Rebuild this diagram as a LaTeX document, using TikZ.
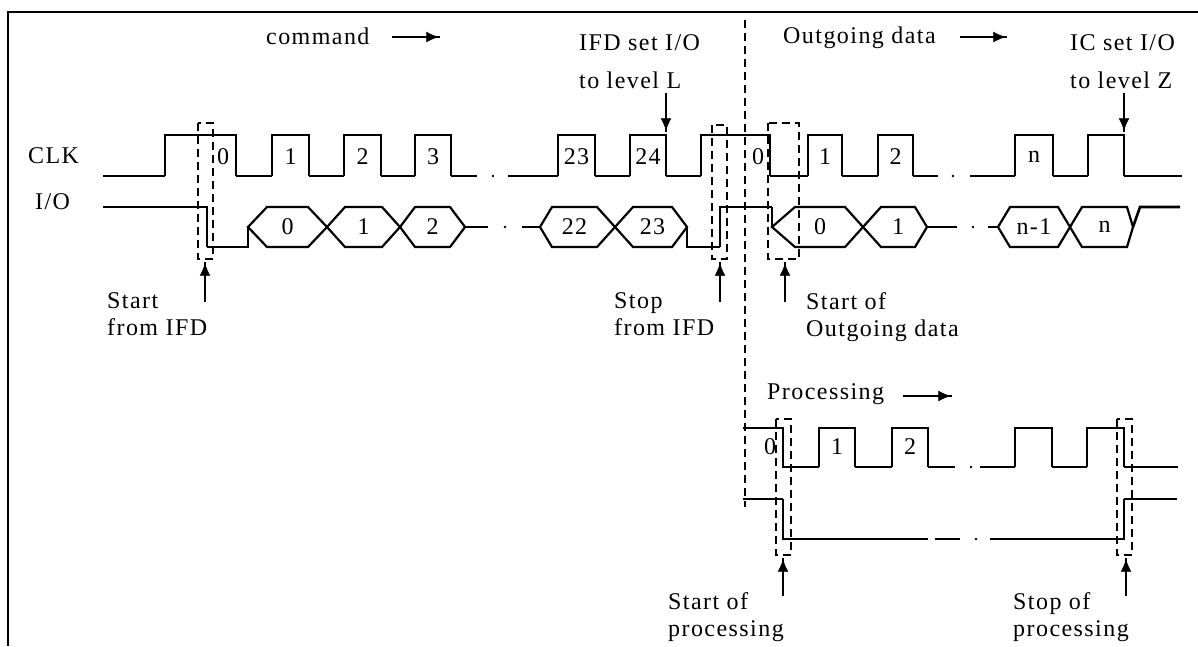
\documentclass[tikz,border=0pt]{standalone}
\usepackage{fontspec}
\setmainfont{Liberation Serif}[LetterSpace=6]
\usetikzlibrary{positioning, calc, arrows.meta, decorations.markings}
\tikzstyle{Pointer} = [
%thin shaft with a filled head:
line width=1.2pt,
decoration={
markings,
mark=at position 1 with {
\arrow{Latex[length=14pt,width=12pt]}
}
},
preaction = {decorate}
]

\begin{document}
\begin{tikzpicture}[x=1pt, y=-1pt,
				hi/.style = {line width=2.6pt},
				lo/.style = {line width=1.3pt},
				hex/.style = {line width=2.2pt, line join=miter},
				cut/.style = {line width=1.3pt, dash pattern=on 8pt off 5pt},
				tag/.style = {font=\fontsize{24}{28}\selectfont, inner sep=0pt},
				note/.style = {font=\fontsize{24}{27}\selectfont, inner sep=0pt, align=left, anchor=north west},
				wide/.style = {note, font=\fontsize{24}{38}\selectfont},
			]
			\useasboundingbox (0,0) rectangle (1198,646);
			\draw[line width=1.6pt] (8,646) |- (1198,12);

			% headings
			\node[tag, anchor=base west](cmd) at (266,44){command};
			\node[tag, anchor=base west](outData) at (783,43){Outgoing data};
			\node[tag, anchor=base west](proc) at (767,399){Processing};
			\node[wide](ifdL) at (579,34){IFD set I/O\\to level L};
			\node[wide](icZ) at (1070,34){IC set I/O\\to level Z};
			\node[tag, anchor=base west](clk) at (28,163){CLK};
			\node[tag, anchor=base west](io) at (35,209){I/O};

			\node[note](startIFD) at (107,292){Start\\from IFD};
			\node[note](stopIFD) at (614,292){Stop\\from IFD};
			\node[note](startOut) at (806,292){Start of\\Outgoing data};
			\node[note](startProc) at (668,592){Start of\\processing};
			\node[note](stopProc) at (1013,592){Stop of\\processing};

			% clock line
			\draw[lo] (103,176) -- (165,176);
			\foreach \a/\b in {236/272, 309/344, 381/415, 451/477, 508/558, 595/630, 666/701, 770/808, 842/878, 913/938, 970/1015, 1053/1088, 1124/1182}
				\draw[lo] (\a,176) -- (\b,176);
			\foreach \a/\b/\t in {165/236/, 272/309/1, 344/381/2, 415/451/3, 558/595/23, 630/666/24, 701/770/, 808/842/1, 878/913/2, 1015/1053/n, 1088/1124/}
				\draw[hi] (\a,176) |- (\b,135) -- (\b,176) node[tag](ck-\a) at ({(\a+\b)/2},157){\t};
			\node[tag](ck-first) at (223,157){0};
			\node[tag](ck-turn) at (758,157){0};
			\fill (493,176) circle (1.4pt);
			\fill (953,176) circle (1.4pt);

			% I/O line
			\draw[hi] (103,207) -| (207,247);
			\draw[lo] (207,247) -| (248,227);
			\foreach \a/\b/\c/\d/\t in {248/267/308/327/0, 327/345/382/400/1, 400/415/450/465/2, 540/552/597/615/22, 615/633/672/687/23, 772/795/845/863/0, 863/881/915/927/1, 998/1010/1058/1070/n-1, 1070/1082/1127/1133/n}
				\draw[hex] (\a,227) -- (\b,207) -- (\c,207) -- (\d,227) -- (\c,247) -- (\b,247) -- cycle node[tag](by-\a) at ({(\b+\c)/2},227){\t};
			\draw[hi] (465,227) -- (488,227);
			\draw[hi] (522,227) -- (540,227);
			\draw[lo] (687,227) |- (720,247);
			\draw[hi] (720,247) |- (772,207);
			\draw[lo] (772,207) -- (772,227);
			\draw[hi] (927,227) -- (957,227);
			\draw[hi] (988,227) -- (998,227);
			\draw[hi] (1133,227) -- (1140,207) -- (1180,207);
			\fill (505,227) circle (1.4pt);
			\fill (973,227) circle (1.4pt);

			% processing clock
			\draw[hi] (743,428) -| (783,467) -- (819,467);
			\foreach \a/\b in {855/892, 928/955, 980/1015, 1052/1087, 1124/1178}
				\draw[hi] (\a,467) -- (\b,467);
			\foreach \a/\b/\t in {819/855/1, 892/928/2, 1015/1052/, 1087/1124/}
				\draw[hi] (\a,467) |- (\b,428) -- (\b,467) node[tag](pk-\a) at ({(\a+\b)/2},447){\t};
			\node[tag](pk-first) at (770,447){0};
			\fill (971,467) circle (1.4pt);

			% processing I/O
			\draw[lo] (743,499) -- (783,499);
			\draw[hi] (783,499) |- (928,539);
			\draw[hi] (935,539) -- (960,539);
			\draw[hi] (990,539) -| (1124,499);
			\draw[lo] (1124,499) -- (1177,499);
			\fill (976,539) circle (1.4pt);

			% dashed marks
			\draw[cut] (745,20) -- (745,507);
			\draw[cut] (198,123) rectangle (213,259);
			\draw[cut] (712,125) rectangle (727,259);
			\draw[cut] (768,123) rectangle (799,259);
			\draw[cut] (776,419) rectangle (791,555);
			\draw[cut] (1117,419) rectangle (1132,555);

			% pointers
			\coordinate (cmdA) at (392,37);
			\coordinate (cmdB) at (440,37);
			\coordinate (outA) at (960,37);
			\coordinate (outB) at (1007,37);
			\coordinate (procA) at (903,396);
			\coordinate (procB) at (952,396);
			\coordinate (ifdA) at (666,93);
			\coordinate (ifdB) at (666,132);
			\coordinate (icA) at (1124,93);
			\coordinate (icB) at (1124,132);
			\coordinate (s1A) at (205,302);
			\coordinate (s1B) at (205,262);
			\coordinate (s2A) at (720,302);
			\coordinate (s2B) at (720,262);
			\coordinate (s3A) at (785,302);
			\coordinate (s3B) at (785,262);
			\coordinate (s4A) at (783,596);
			\coordinate (s4B) at (783,558);
			\coordinate (s5A) at (1126,596);
			\coordinate (s5B) at (1126,558);

			\draw[Pointer](cmdA)--(cmdB);
			\draw[Pointer](outA)--(outB);
			\draw[Pointer](procA)--(procB);
			\draw[Pointer](ifdA)--(ifdB);
			\draw[Pointer](icA)--(icB);
			\draw[Pointer](s1A)--(s1B);
			\draw[Pointer](s2A)--(s2B);
			\draw[Pointer](s3A)--(s3B);
			\draw[Pointer](s4A)--(s4B);
			\draw[Pointer](s5A)--(s5B);

		\end{tikzpicture}
\end{document}
